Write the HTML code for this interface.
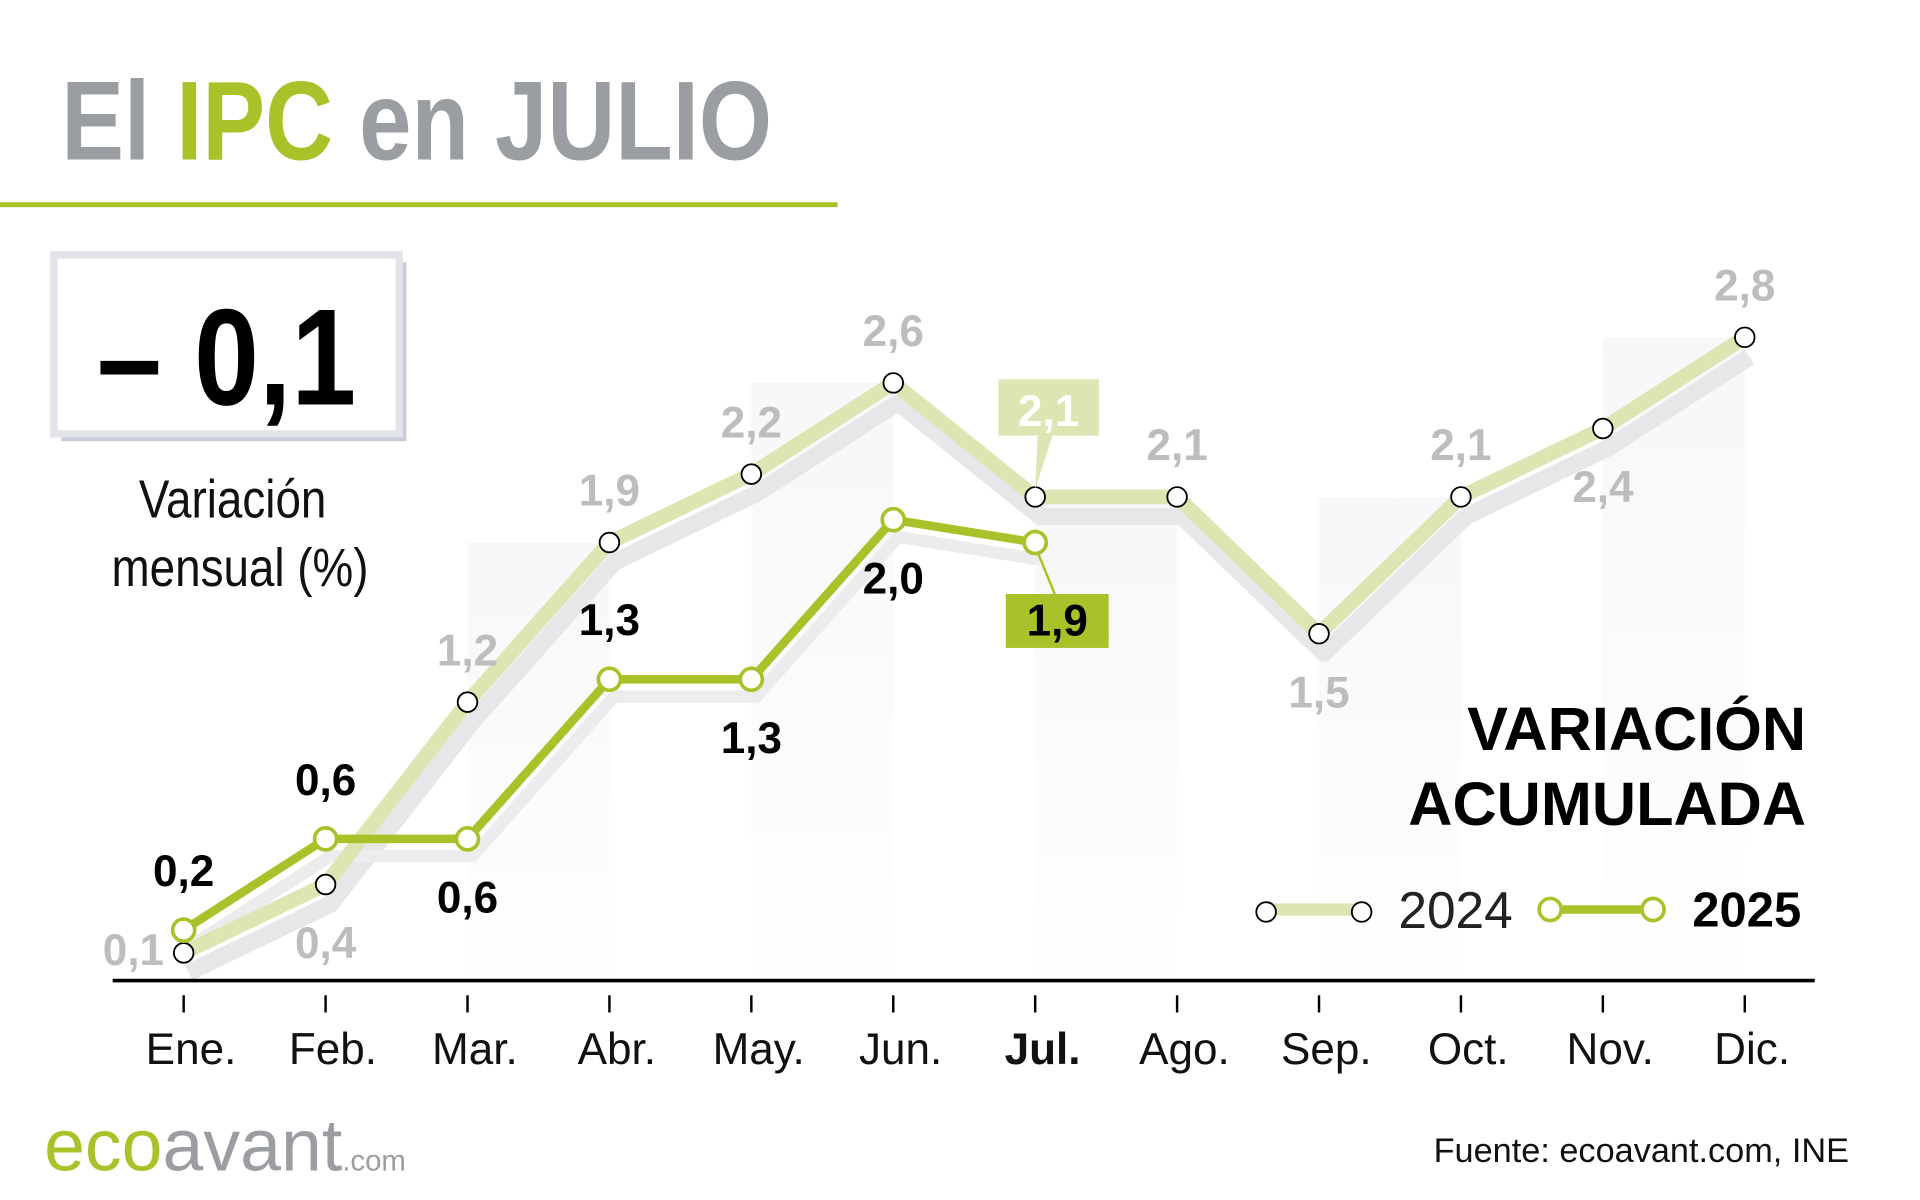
<!DOCTYPE html>
<html><head><meta charset="utf-8"><style>
html,body{margin:0;padding:0;background:#fff;width:1920px;height:1200px;overflow:hidden}
svg{display:block}
text{font-family:"Liberation Sans",sans-serif}
</style></head><body>
<svg id="c" width="1920" height="1200" viewBox="0 0 1568 979" preserveAspectRatio="none">
<defs>
<linearGradient id="g" x1="0" y1="0" x2="0" y2="1"><stop offset="0" stop-color="#f3f4f6" stop-opacity="0.7"/><stop offset="1" stop-color="#f3f4f6" stop-opacity="0.05"/></linearGradient>
</defs>
<g id="bg"></g>
<text x="50" y="130" font-size="92" font-weight="bold" fill="#9a9da2" transform="scale(0.835,1)" style="transform-origin:50px 0">El <tspan fill="#a8c32a">IPC</tspan> en JULIO</text>
<rect x="0" y="165" width="684" height="4" fill="#a8c32a"/>
<rect x="50" y="214" width="282" height="146" fill="#c9ccd8"/>
<rect x="44" y="208" width="282" height="146" fill="#fff" stroke="#e2e4ea" stroke-width="6"/>
<text x="185" y="330" text-anchor="middle" font-size="112" font-weight="bold" fill="#000" transform="scale(0.85,1)" style="transform-origin:185px 0">– 0,1</text>
<text x="190" y="422" text-anchor="middle" font-size="44" fill="#111" transform="scale(0.85,1)" style="transform-origin:190px 0">Variación</text>
<text x="196" y="478" text-anchor="middle" font-size="44" fill="#111" transform="scale(0.85,1)" style="transform-origin:196px 0">mensual (%)</text>
<g id="plot"></g>
<line x1="92" y1="800" x2="1482" y2="800" stroke="#000" stroke-width="3"/>
<g id="xt"></g>
<text x="1475" y="612" text-anchor="end" font-size="50" font-weight="bold" fill="#000">VARIACIÓN</text>
<text x="1475" y="673" text-anchor="end" font-size="50" font-weight="bold" fill="#000">ACUMULADA</text>
<g>
<line x1="1038" y1="742" x2="1112" y2="742" stroke="#dce6b3" stroke-width="10"/>
<circle cx="1034" cy="744" r="8" fill="#fff" stroke="#000" stroke-width="1.5"/><circle cx="1112" cy="744" r="8" fill="#fff" stroke="#000" stroke-width="1.5"/>
<text x="1142" y="757" font-size="42" fill="#222">2024</text></g>
<g>
<line x1="1268" y1="742" x2="1350" y2="742" stroke="#a8c32a" stroke-width="7"/>
<circle cx="1266" cy="742" r="9" fill="#fff" stroke="#a8c32a" stroke-width="3"/><circle cx="1350" cy="742" r="9" fill="#fff" stroke="#a8c32a" stroke-width="3"/>
<text x="1382" y="756" font-size="40" font-weight="bold" fill="#000">2025</text></g>
<text x="36" y="955" font-size="60" fill="#a8c32a">eco<tspan fill="#9a9da2">avant</tspan><tspan fill="#9a9da2" font-size="24">.com</tspan></text>
<text x="1510" y="948" text-anchor="end" font-size="28" fill="#111">Fuente: ecoavant.com, INE</text>
</svg>
<script>
const months=["Ene.","Feb.","Mar.","Abr.","May.","Jun.","Jul.","Ago.","Sep.","Oct.","Nov.","Dic."];
const v2024=[0.1,0.4,1.2,1.9,2.2,2.6,2.1,2.1,1.5,2.1,2.4,2.8];
const v2025=[0.2,0.6,0.6,1.3,1.3,2.0,1.9];
const lbl2024=["0,1","0,4","1,2","1,9","2,2","2,6","2,1","2,1","1,5","2,1","2,4","2,8"];
const lbl2025=["0,2","0,6","0,6","1,3","1,3","2,0","1,9"];
const pos2024=["left","below","above","above","above","above","box","above","below","above","below","above"];
const pos2025=["above","above","below","above","below","below","box"];
const NS="http://www.w3.org/2000/svg";
const X=i=>150+i*115.9;
const Y=v=>796-186*v;
function mk(p,t,a){const e=document.createElementNS(NS,t);for(const k in a)e.setAttribute(k,a[k]);p.appendChild(e);return e;}
const plot=document.getElementById('plot'),bg=document.getElementById('bg'),xt=document.getElementById('xt');
for(let i=2;i<12;i+=2){const r=mk(bg,'rect',{x:X(i),y:Y(v2024[i+1]),width:115.9,height:800-Y(v2024[i+1]),fill:'url(#g)'});

}
months.forEach((m,i)=>{mk(xt,'line',{x1:X(i),y1:812,x2:X(i),y2:826,stroke:'#000','stroke-width':2});
const t=mk(xt,'text',{x:X(i)+6,y:868,'text-anchor':'middle','font-size':36,fill:'#111','font-weight':i==6?'bold':'normal'});t.textContent=m;

});
const pts=a=>a.map((v,i)=>X(i)+','+Y(v)).join(' ');
const pts2=(a,dx,dy)=>a.map((v,i)=>(X(i)+dx)+','+(Y(v)+dy)).join(' ');
const sh=mk(plot,'polyline',{points:pts2(v2024,4,16),fill:'none',stroke:'#e6e7e9','stroke-width':14,'stroke-linejoin':'round'});


const sh2=mk(plot,'polyline',{points:pts2(v2025,4,14),fill:'none',stroke:'#ececee','stroke-width':10,'stroke-linejoin':'round'});


const l1=mk(plot,'polyline',{points:pts(v2024),fill:'none',stroke:'#dce6b3','stroke-width':12,'stroke-linejoin':'round'});


const l2=mk(plot,'polyline',{points:pts(v2025),fill:'none',stroke:'#a8c32a','stroke-width':7,'stroke-linejoin':'round'});


v2024.forEach((v,i)=>{const c=mk(plot,'circle',{cx:X(i),cy:Y(v),r:8,fill:'#fff',stroke:'#000','stroke-width':1.5});


const p=pos2024[i];let tx=X(i),ty=Y(v)-30,anc='middle';
if(p=='below')ty=Y(v)+60;if(p=='left'){tx=X(i)-16;ty=Y(v)+10;anc='end';}
if(p=='box'){const b=mk(plot,'rect',{x:X(i)-30,y:Y(v)-96,width:82,height:46,fill:'#dce6b3'});


mk(plot,'polygon',{points:`${X(i)+2},${Y(v)-50} ${X(i)+14},${Y(v)-50} ${X(i)},${Y(v)-6}`,fill:'#dce6b3'});
ty=Y(v)-58;tx=X(i)+11;}
const t=mk(plot,'text',{x:tx,y:ty,'text-anchor':anc,'font-size':36,'font-weight':'bold',fill:p=='box'?'#fff':'#bdbdbd'});t.textContent=lbl2024[i];

});
v2025.forEach((v,i)=>{const c=mk(plot,'circle',{cx:X(i),cy:Y(v),r:9,fill:'#fff',stroke:'#a8c32a','stroke-width':3});


const p=pos2025[i];let tx=X(i),ty=Y(v)-36;
if(p=='below')ty=Y(v)+60;
if(p=='box'){const b=mk(plot,'rect',{x:X(i)-24,y:Y(v)+42,width:84,height:44,fill:'#a8c32a'});


mk(plot,'line',{x1:X(i)+2,y1:Y(v)+8,x2:X(i)+16,y2:Y(v)+42,stroke:'#a8c32a','stroke-width':2});
tx=X(i)+18;ty=Y(v)+76;}
const t=mk(plot,'text',{x:tx,y:ty,'text-anchor':'middle','font-size':36,'font-weight':'bold',fill:'#000'});t.textContent=lbl2025[i];

});
</script>
</body></html>
